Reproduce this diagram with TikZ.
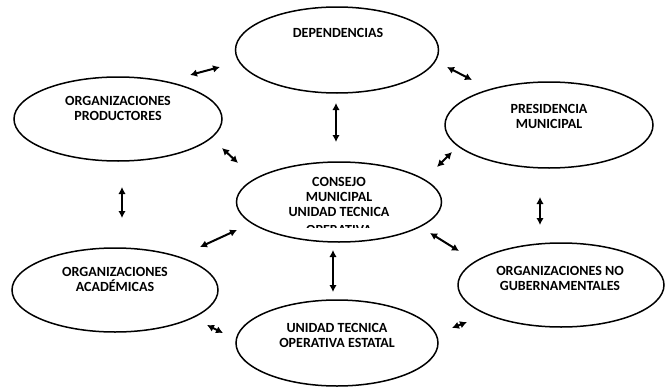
\documentclass[tikz,border=0pt]{standalone}
\usepackage{fontspec}
\setmainfont{Carlito}
\usetikzlibrary{shapes.geometric,arrows.meta}
\begin{document}
\begin{tikzpicture}[x=1pt,y=-1pt,
  oval/.style={draw,ellipse,line width=1.5pt,inner sep=0pt},
  lbl/.style={align=center,font=\bfseries\fontsize{14}{15}\selectfont,inner sep=0pt},
  cut/.style={font=\bfseries\fontsize{14}{15}\selectfont,inner sep=0pt},
  link/.style={{Latex[length=7pt,width=7.5pt]}-{Latex[length=7pt,width=7.5pt]},line width=2pt}]
\useasboundingbox (0,0) rectangle (666,388);
\node[oval,minimum width=203pt,minimum height=86pt] (dep) at (337,50) {};
\node[oval,minimum width=208pt,minimum height=84pt] (prod) at (118,119) {};
\node[oval,minimum width=208pt,minimum height=86pt] (pres) at (549,125) {};
\node[oval,minimum width=205pt,minimum height=80pt] (cons) at (339,202) {};
\node[oval,minimum width=206pt,minimum height=84pt] (acad) at (115,290) {};
\node[oval,minimum width=206pt,minimum height=84pt] (nogub) at (561,285) {};
\node[oval,minimum width=202pt,minimum height=86pt] (unid) at (337,343) {};

\node[lbl] (tdep) at (338,33) {DEPENDENCIAS};
\node[lbl] (tprod) at (118,108) {ORGANIZACIONES\\PRODUCTORES};
\node[lbl] (tpres) at (549,116) {PRESIDENCIA\\MUNICIPAL};
\node[lbl] (tcons) at (339,197) {CONSEJO\\MUNICIPAL\\UNIDAD TECNICA};
\begin{scope}
\clip (280,225) rectangle (400,227);
\node[cut,anchor=base] (tcut) at (339,234) {OPERATIVA};
\end{scope}
\node[lbl] (tacad) at (115,279) {ORGANIZACIONES\\ACADÉMICAS};
\node[lbl] (tnogub) at (560,278) {ORGANIZACIONES NO\\GUBERNAMENTALES};
\node[lbl] (tunid) at (337,335) {UNIDAD TECNICA\\OPERATIVA ESTATAL};

\coordinate (a1) at (190,75); \coordinate (b1) at (220,67);
\coordinate (a2) at (447,67); \coordinate (b2) at (472,80);
\coordinate (a3) at (336,103); \coordinate (b3) at (336,142);
\coordinate (a4) at (222,148); \coordinate (b4) at (238,163);
\coordinate (a5) at (452,152); \coordinate (b5) at (437,167);
\coordinate (a6) at (122,187); \coordinate (b6) at (122,218);
\coordinate (a7) at (540,197); \coordinate (b7) at (540,225);
\coordinate (a8) at (200,247); \coordinate (b8) at (237,230);
\coordinate (a9) at (430,233); \coordinate (b9) at (459,251);
\coordinate (a10) at (333,250); \coordinate (b10) at (333,292);
\coordinate (a11) at (207,325); \coordinate (b11) at (223,333);
\coordinate (a12) at (452,328); \coordinate (b12) at (467,322);

\draw[link] (a1) -- (b1);
\draw[link] (a2) -- (b2);
\draw[link] (a3) -- (b3);
\draw[link] (a4) -- (b4);
\draw[link] (a5) -- (b5);
\draw[link] (a6) -- (b6);
\draw[link] (a7) -- (b7);
\draw[link] (a8) -- (b8);
\draw[link] (a9) -- (b9);
\draw[link] (a10) -- (b10);
\draw[link] (a11) -- (b11);
\draw[link] (a12) -- (b12);
\end{tikzpicture}
\end{document}
